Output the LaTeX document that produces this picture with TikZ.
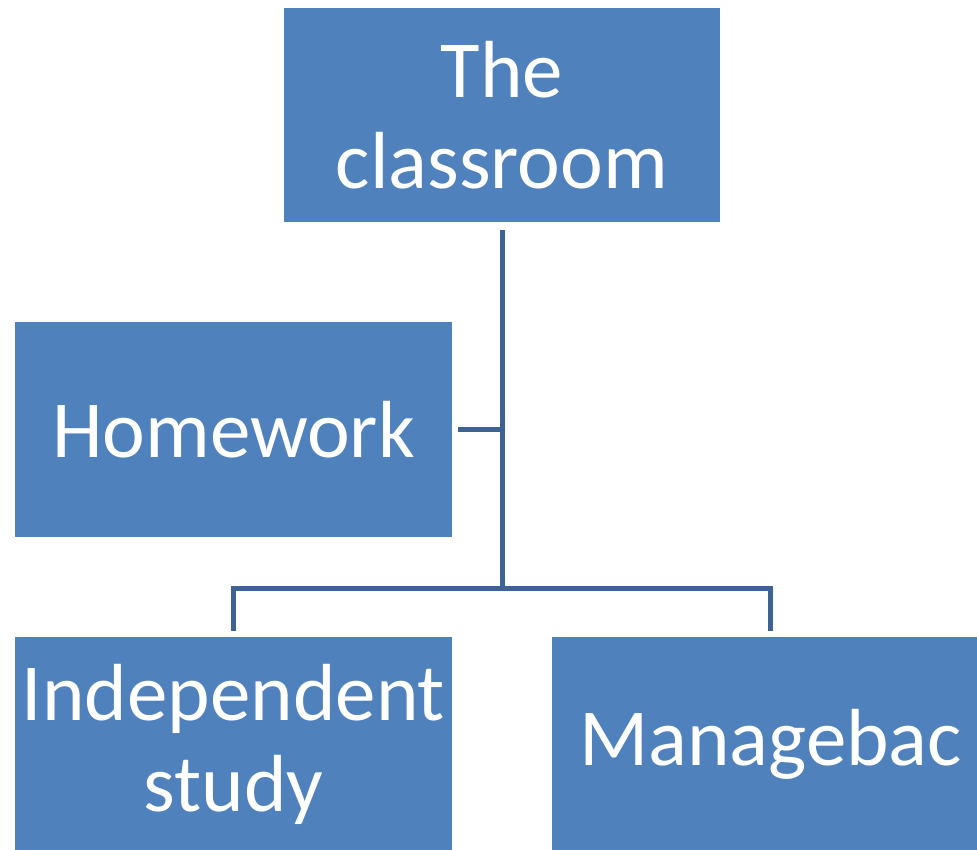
\documentclass[tikz,border=0pt]{standalone}
\usepackage{fontspec}
\setmainfont{Carlito}
\usepackage{tikz}
\definecolor{boxblue}{RGB}{79,129,189}
\definecolor{lineblue}{RGB}{61,99,148}

\begin{document}
\begin{tikzpicture}[x=1pt,y=-1pt,
	box/.style={rectangle,fill=boxblue,text=white,inner sep=0pt,minimum width=437pt,minimum height=214pt,align=center,font=\fontsize{81}{91}\selectfont},
	link/.style={draw=lineblue,line width=5pt}]
	\useasboundingbox (0,0) rectangle (977,850);
	\node[box,minimum width=436pt] (room) at (502,115) {The\\classroom};
	\node[box,minimum height=215pt] (homework) at (233.5,429.5) {Homework};
	\node[box] (indep) at (233.5,744) {Independent\\study};
	\node[box] (manage) at (770.5,744) {Managebac};
	\coordinate (hub) at (502,588);
	\draw[link,shorten <=8pt] (room.south) -- (hub);
	\draw[link,shorten <=6pt] (homework.east) -- (homework.east -| room.south);
	\draw[link,shorten <=6pt,shorten >=6pt] (indep.north) -- (indep.north |- hub) -| (manage.north);
\end{tikzpicture}
\end{document}
